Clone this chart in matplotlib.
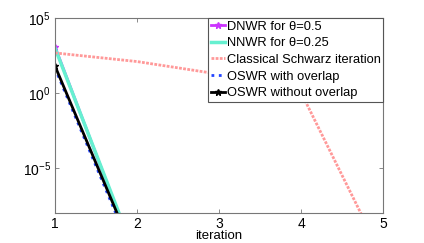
import numpy as np
import matplotlib
matplotlib.use("Agg")
import matplotlib.pyplot as plt
from matplotlib.ticker import FixedLocator, NullLocator

plt.rcParams['font.family'] = ['Liberation Sans', 'DejaVu Sans']

# error per iteration
it_fast = [1, 2]
dnwr = [1.2e3, 6e-12]
nnwr = [1.0e3, 8e-12]
oswr_ov = [45, 4e-12]
oswr_no = [63, 7e-12]

it_cs = [1, 2, 3, 4, 5]
classical = [470, 125, 18, 1.1, 1e-11]

labels = ["DNWR for \u03b8=0.5", "NNWR for \u03b8=0.25",
          "Classical Schwarz iteration", "OSWR with overlap",
          "OSWR without overlap"]

fig = plt.figure(figsize=(4.24, 2.43), dpi=100)
ax = fig.add_axes([55/424, 1 - 213/243, 328/424, 195/243])

ax.semilogy(it_fast, dnwr, '*-', color='#cc33ff', lw=2, ms=5, label=labels[0])
ax.semilogy(it_fast, nnwr, '-', color='#66f0d0', lw=2.5, label=labels[1])
ax.semilogy(it_cs, classical, color='#ff9999', lw=2, dashes=(1, 0.5),
            label=labels[2])
ax.semilogy(it_fast, oswr_ov, ':', color='#2244ff', lw=2, label=labels[3])
ax.semilogy(it_fast, oswr_no, '*-', color='black', lw=2, ms=5, label=labels[4])

ax.set_xlim(1, 5)
ax.set_ylim(1e-8, 1e5)
ax.set_xticks([1, 2, 3, 4, 5])
ax.yaxis.set_major_locator(FixedLocator([1e-5, 1e0, 1e5]))
ax.yaxis.set_minor_locator(NullLocator())
ax.tick_params(direction='in', length=3, width=0.6, color='#777777',
               labelsize=10, top=True, right=True, pad=3)
for s in ax.spines.values():
    s.set_color('#777777')
    s.set_linewidth(0.8)

ax.set_xlabel("iteration", fontsize=9.5, labelpad=-1)

leg = ax.legend(loc='upper right', fontsize=9.3, borderaxespad=0,
                handlelength=1.1, handletextpad=0.1, labelspacing=0.36,
                borderpad=0.2, fancybox=False, framealpha=1)
leg.get_frame().set_edgecolor('#555555')
leg.get_frame().set_linewidth(0.8)

fig.savefig("out.png", dpi=100)
